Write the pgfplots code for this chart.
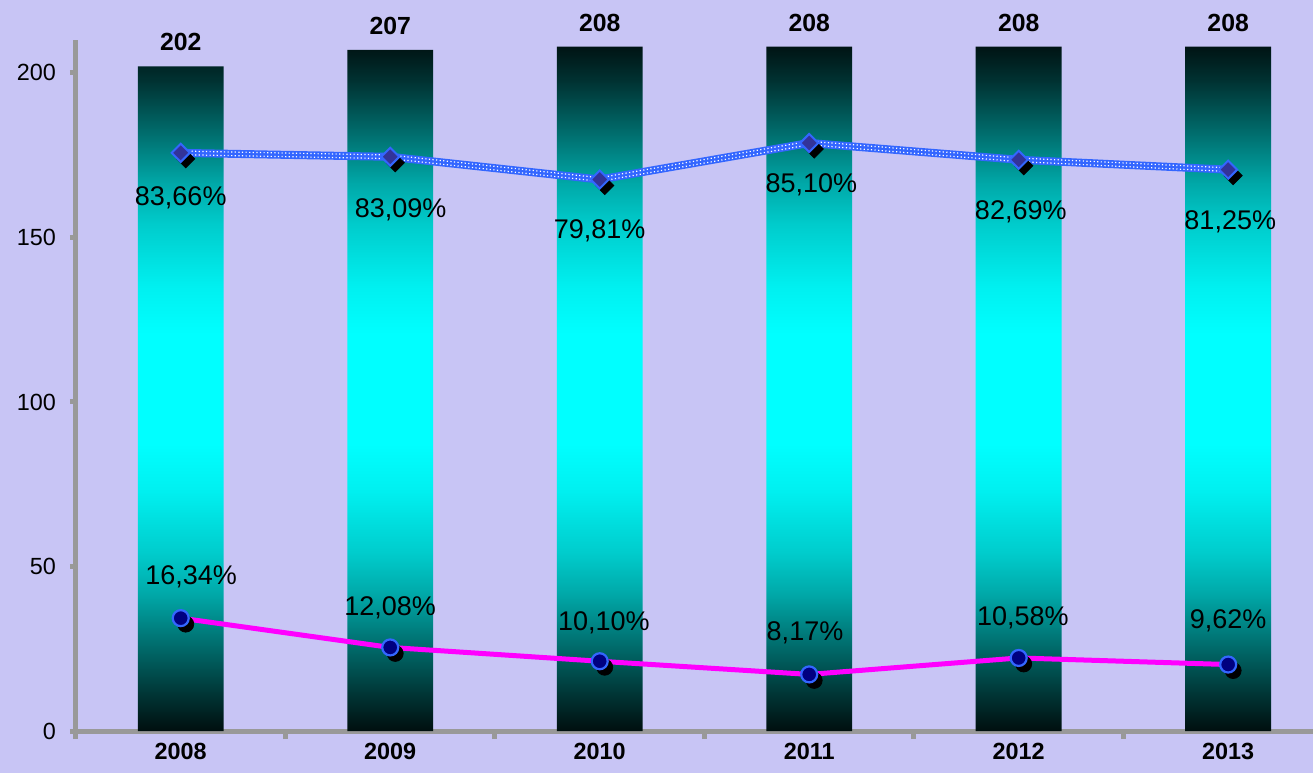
\documentclass[border=0pt]{standalone}
\usepackage{pgfplots}
\pgfplotsset{compat=1.18}
\usepackage{fontspec}
\setmainfont{Liberation Sans}
\definecolor{bg}{RGB}{200,197,245}
\definecolor{axgray}{RGB}{153,153,153}
\definecolor{lineblue}{RGB}{51,102,255}
\definecolor{diafill}{RGB}{51,51,153}
\definecolor{pinkline}{RGB}{255,0,255}
\definecolor{navyfill}{RGB}{0,0,128}
\pgfdeclareverticalshading{barshade}{100bp}{%
  rgb(0bp)=(0,0.059,0.059);
  rgb(25bp)=(0,0.059,0.059);
  rgb(27.5bp)=(0,0.196,0.196);
  rgb(31.5bp)=(0,0.439,0.439);
  rgb(35bp)=(0,0.659,0.659);
  rgb(38bp)=(0,0.8,0.8);
  rgb(42.5bp)=(0,0.941,0.941);
  rgb(46bp)=(0,1,1);
  rgb(54bp)=(0,1,1);
  rgb(57.5bp)=(0,0.941,0.941);
  rgb(62bp)=(0,0.8,0.8);
  rgb(65bp)=(0,0.659,0.659);
  rgb(68.5bp)=(0,0.439,0.439);
  rgb(72.5bp)=(0,0.196,0.196);
  rgb(75bp)=(0,0.078,0.078);
  rgb(100bp)=(0,0.078,0.078)}
\begin{document}
\begin{tikzpicture}
\useasboundingbox (0,0) rectangle (656.5pt,386.5pt);
\fill[bg] (0,0) rectangle (656.5pt,386.5pt);
\begin{axis}[
  at={(38pt,21pt)}, anchor=south west, scale only axis,
  width=618.5pt, height=345.5pt,
  xmin=-0.5, xmax=5.405, ymin=0, ymax=210,
  clip=false,
  axis lines*=left,
  axis line style={-, axgray, line width=2.5pt},
  tick align=outside,
  major tick length=3pt,
  minor tick length=4pt,
  ytick={0,50,100,150,200},
  ytick style={axgray, line width=2.5pt},
  xtick={0,1,2,3,4,5},
  xticklabels={2008,2009,2010,2011,2012,2013},
  minor xtick={-0.5,0.5,1.5,2.5,3.5,4.5},
  major x tick style={draw=none},
  minor x tick style={axgray, line width=2.5pt},
  /pgf/number format/assume math mode=true,
  yticklabel style={font=\fontsize{11.7}{14}\selectfont, xshift=-3.5pt},
  xticklabel style={font=\bfseries\fontsize{11.7}{14}\selectfont, yshift=0.5pt},
]
% bars
\addplot[ybar, bar width=0.41, draw=none, shade, shading=barshade]
  coordinates {(0,202) (1,207) (2,208) (3,208) (4,208) (5,208)};
% bar labels
\addplot[draw=none, mark=none, nodes near coords,
  nodes near coords style={anchor=center, yshift=12pt, text=black, font=\bfseries\fontsize{12.4}{14}\selectfont}]
  coordinates {(0,202) (1,207) (2,208) (3,208) (4,208) (5,208)};
% blue series: shadow, line, texture, marks
\addplot[only marks, mark=square*, mark size=3.2pt, black, mark options={xshift=2.5pt, yshift=-3pt, rotate=45}]
  coordinates {(0,175.7) (1,174.5) (2,167.6) (3,178.7) (4,173.6) (5,170.6)};
\addplot[lineblue, line width=4pt, mark=none]
  coordinates {(0,175.7) (1,174.5) (2,167.6) (3,178.7) (4,173.6) (5,170.6)};
\addplot[white, line width=0.6pt, mark=none, dash pattern=on 0.6pt off 1.2pt, transform canvas={yshift=0.9pt}]
  coordinates {(0,175.7) (1,174.5) (2,167.6) (3,178.7) (4,173.6) (5,170.6)};
\addplot[white, line width=0.6pt, mark=none, dash pattern=on 0.6pt off 1.2pt, transform canvas={yshift=-0.9pt}]
  coordinates {(0,175.7) (1,174.5) (2,167.6) (3,178.7) (4,173.6) (5,170.6)};
\addplot[only marks, mark=square*, mark size=3.2pt, mark options={rotate=45, fill=diafill, draw=lineblue, line width=1pt}]
  coordinates {(0,175.7) (1,174.5) (2,167.6) (3,178.7) (4,173.6) (5,170.6)};
% pink series
\addplot[only marks, mark=*, mark size=4pt, black, mark options={xshift=2.5pt, yshift=-3pt}]
  coordinates {(0,34.3) (1,25.4) (2,21.2) (3,17.2) (4,22.2) (5,20.2)};
\addplot[pinkline, line width=2.5pt, mark=none]
  coordinates {(0,34.3) (1,25.4) (2,21.2) (3,17.2) (4,22.2) (5,20.2)};
\addplot[only marks, mark=*, mark size=4pt, mark options={fill=navyfill, draw=lineblue, line width=1.1pt}]
  coordinates {(0,34.3) (1,25.4) (2,21.2) (3,17.2) (4,22.2) (5,20.2)};
% percentage labels
\addplot[draw=none, mark=none, point meta=explicit symbolic, nodes near coords,
  nodes near coords style={anchor=center, text=black, font=\fontsize{13.5}{16}\selectfont}]
  coordinates {(0,162.0) [83,66\%] (1.05,158.4) [83,09\%] (2,152.0) [79,81\%]
               (3.01,166.0) [85,10\%] (4.01,157.8) [82,69\%] (5.01,154.7) [81,25\%]};
\addplot[draw=none, mark=none, point meta=explicit symbolic, nodes near coords,
  nodes near coords style={anchor=center, text=black, font=\fontsize{13.5}{16}\selectfont}]
  coordinates {(0.05,46.8) [16,34\%] (1.0,37.4) [12,08\%] (2.02,32.8) [10,10\%]
               (2.98,29.8) [8,17\%] (4.02,34.3) [10,58\%] (5.0,33.4) [9,62\%]};
\end{axis}
\end{tikzpicture}
\end{document}
